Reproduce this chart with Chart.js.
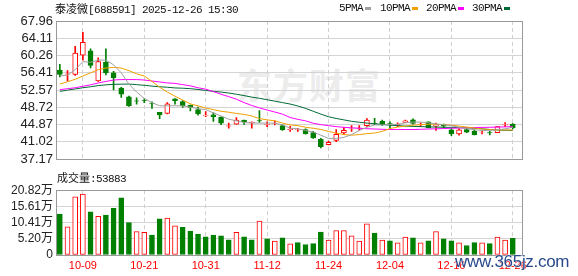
<!DOCTYPE html>
<html>
<head>
<meta charset="utf-8">
<script src="https://cdn.jsdelivr.net/npm/chart.js@4"></script>
<style>
  html, body { margin: 0; padding: 0; background: #fff; }
  #wrap { position: relative; width: 578px; height: 276px; overflow: hidden; }
  canvas { position: absolute; left: 0; z-index: 1; }
  .txt { position: absolute; white-space: nowrap; z-index: 2; color: #111; }
  .cjk { font-family: 'Noto Sans CJK SC'; font-size: 11px; }
  .mono { font-family: 'Liberation Mono'; font-size: 11px; letter-spacing: -0.6px; }
  .swatch { position: absolute; width: 6px; height: 3px; z-index: 2; }
  #logo { position: absolute; left: 237px; top: 64px; z-index: 0; font-family: 'Noto Sans CJK SC';
          font-weight: bold; font-size: 35px; line-height: 40px; color: #ececec; letter-spacing: 1px; }
  #site { position: absolute; left: 455px; top: 253px; z-index: 3; font-family: 'Liberation Sans';
          font-size: 17px; line-height: 17px; letter-spacing: -0.3px; color: #2a4a8c;
          text-shadow: 0 0 1px #fff, 0 0 1px #fff; }
</style>
</head>
<body>
<div id="wrap">
  <div id="logo">东方财富</div>
  <div class="txt" style="left:55px;top:0;line-height:16px;"><span class="cjk">泰凌微</span><span class="mono">[688591] 2025-12-26 15:30</span></div>
  <div id="legend"></div>
  <div class="txt" style="left:57px;top:169px;line-height:16px;"><span class="cjk">成交量</span><span class="mono">:53883</span></div>
  <canvas id="priceChart" width="578" height="170" style="top:0"></canvas>
  <canvas id="volChart" width="578" height="96" style="top:180px"></canvas>
  <div id="site">www.365jz.com</div>
</div>
<script>
// trading days shown
const dates = ['09-26','09-29','09-30','10-09','10-10','10-13','10-14','10-15','10-16','10-17',
  '10-20','10-21','10-22','10-23','10-24','10-27','10-28','10-29','10-30','10-31',
  '11-03','11-04','11-05','11-06','11-07','11-10','11-11','11-12','11-13','11-14',
  '11-17','11-18','11-19','11-20','11-21','11-24','11-25','11-26','11-27','11-28',
  '12-01','12-02','12-03','12-04','12-05','12-08','12-09','12-10','12-11','12-12',
  '12-15','12-16','12-17','12-18','12-19','12-22','12-23','12-24','12-25','12-26'];
const dateTicks = ['10-09','10-21','10-31','11-12','11-24','12-04','12-16','12-26'];

const open  = [57.00,56.10,56.05,60.32,61.33,54.63,58.76,56.41,53.00,51.06,
  50.20,50.25,49.68,47.64,47.36,50.63,50.00,49.20,48.20,46.90,
  47.06,46.57,44.52,45.00,45.86,45.30,45.76,44.82,45.18,44.65,
  43.75,43.70,43.79,43.08,41.59,40.43,41.37,43.00,43.90,44.03,
  44.65,45.10,45.60,45.12,44.70,45.35,45.93,44.84,45.50,44.55,
  44.90,43.73,42.80,43.79,43.40,43.17,43.10,43.08,44.82,45.00];
const high  = [58.33,56.90,62.33,65.46,61.76,59.77,61.76,56.77,53.20,51.21,
  50.85,50.63,49.93,47.64,49.78,50.70,50.21,49.20,48.77,47.80,
  47.49,46.63,45.22,46.42,45.90,45.50,48.00,45.50,45.72,44.80,
  44.50,44.07,43.94,43.36,41.80,41.23,43.79,44.29,44.65,44.65,
  46.21,46.29,45.90,45.50,45.30,45.86,46.14,45.29,45.50,45.20,
  45.00,44.00,43.94,43.98,43.70,43.50,43.40,44.50,45.35,45.10];
const low   = [55.49,54.60,55.83,59.25,57.48,54.48,55.92,52.63,50.91,48.92,
  49.42,49.78,48.50,46.20,47.28,49.42,48.71,47.92,47.00,46.63,
  45.57,44.86,44.07,44.93,44.93,44.07,45.35,44.43,44.80,43.58,
  43.36,43.36,42.72,41.80,39.66,40.37,41.07,42.66,43.36,43.65,
  44.50,44.86,44.70,44.10,44.40,45.29,45.00,44.43,44.15,43.58,
  44.20,42.44,42.50,43.10,42.60,42.80,42.60,43.08,44.43,43.90];
const close = [56.05,56.20,60.84,63.19,58.06,58.91,56.41,55.34,51.64,49.07,
  50.10,50.21,49.60,47.06,49.50,50.21,49.07,48.71,47.28,47.00,
  46.63,45.22,44.60,45.86,45.50,45.38,45.70,44.88,45.24,43.73,
  43.81,43.75,42.87,41.93,39.94,40.95,42.72,43.58,43.96,44.09,
  45.86,45.05,44.90,45.08,45.00,45.72,45.14,44.88,44.15,44.75,
  44.55,42.87,43.73,43.20,42.60,43.22,43.00,44.43,44.88,44.20];

const ma5  = [55.70,55.92,57.12,58.91,58.76,59.25,59.25,58.19,56.41,53.91,
  52.13,50.70,49.78,49.07,49.07,49.07,49.07,48.77,48.43,48.22,
  47.49,46.79,46.08,45.72,45.35,45.22,45.22,45.22,45.22,44.80,
  44.07,43.94,43.58,43.21,42.51,41.80,41.80,42.02,42.66,43.58,
  44.28,44.80,44.80,44.92,44.92,45.29,45.44,45.44,45.29,45.01,
  44.86,44.65,44.28,44.00,43.73,43.58,43.58,43.73,43.94,44.28];
const ma10 = [53.91,54.42,54.98,55.70,56.41,57.12,57.48,57.63,57.48,56.90,
  56.20,55.70,54.49,53.20,52.13,51.21,50.36,49.50,49.07,48.56,
  48.22,47.85,47.64,47.36,47.15,46.79,46.21,45.93,45.72,45.22,
  44.80,44.65,44.28,44.07,43.79,43.36,43.00,42.66,42.51,42.66,
  42.87,43.00,43.36,44.00,44.33,44.54,44.75,44.86,44.97,44.97,
  44.86,44.75,44.54,44.33,44.11,43.90,43.79,43.68,43.68,43.68];
const ma20 = [52.67,52.88,53.09,53.42,53.74,54.16,54.49,54.81,54.91,54.91,
  54.91,54.81,54.59,54.38,54.16,54.06,53.78,53.52,53.09,52.77,
  52.24,51.64,51.11,50.53,49.78,49.14,48.60,48.13,47.68,47.21,
  46.46,46.04,45.72,45.18,44.86,44.65,44.43,44.28,44.15,44.07,
  43.96,43.90,43.83,43.79,43.79,43.79,43.79,43.83,43.90,43.94,
  44.00,44.07,44.11,44.15,44.22,44.26,44.28,44.33,44.37,44.43];
const ma30 = [52.28,52.56,52.82,53.09,53.31,53.57,53.74,53.84,53.89,53.91,
  53.78,53.63,53.46,53.31,53.20,53.05,52.99,52.88,52.71,52.50,
  52.28,52.13,51.92,51.64,51.34,51.00,50.74,50.42,50.10,49.78,
  49.46,49.03,48.50,47.85,47.21,46.63,46.25,45.93,45.61,45.40,
  45.22,45.07,44.92,44.75,44.65,44.54,44.48,44.43,44.37,44.33,
  44.28,44.26,44.22,44.15,44.07,43.94,43.79,43.68,43.62,43.58];

// volume in 万 (10k lots); volUp: 1 = red, 0 = green
const volume = [13.17,9.09,18.68,19.60,13.88,12.45,12.86,15.00,18.37,10.41,
  7.55,7.25,6.43,11.64,11.84,9.39,8.88,7.66,6.74,5.82,
  6.43,6.12,4.90,7.25,5.82,4.90,10.92,5.20,4.50,5.51,
  3.58,3.98,3.37,3.67,7.35,4.80,7.86,7.86,6.12,4.49,
  10.00,7.04,4.80,4.59,3.88,5.72,5.51,3.88,4.59,7.55,
  5.20,4.59,3.88,3.06,3.98,3.88,3.67,5.72,4.80,5.39];
const volUp = [0,1,1,1,0,1,0,0,0,0, 1,1,0,0,1,1,0,0,0,0,
  0,0,0,1,0,0,1,0,1,0, 1,0,0,0,0,1,1,1,1,1,
  1,0,1,0,1,1,0,1,0,1, 0,0,1,0,0,1,0,1,1,0];

const priceTicks = [37.17,41.02,44.87,48.72,52.57,56.41,60.26,64.11,67.96];
const volTicks = [0,5.20,10.41,15.61,20.82];

const maNames = ['5PMA','10PMA','20PMA','30PMA'];
const maColors = ['#a0a0a0','#f0a000','#ff00ff','#006a35'];

const RED = '#ff0000', GREEN = '#008000';
const up = close.map((c, i) => c >= open[i]);

// legend (text then swatch)
const legendLeft = [339, 380, 426, 472];
const legend = document.getElementById('legend');
maNames.forEach((n, k) => {
  const t = document.createElement('div');
  t.className = 'txt mono';
  t.style.cssText = `left:${legendLeft[k]}px;top:0;line-height:16px;`;
  t.textContent = n;
  legend.appendChild(t);
  const s = document.createElement('div');
  s.className = 'swatch';
  s.style.cssText = `left:${legendLeft[k] + n.length * 6 + 2}px;top:7px;background:${maColors[k]};`;
  legend.appendChild(s);
});

const frame = {
  id: 'frame',
  afterDraw(c) {
    const a = c.chartArea, ctx = c.ctx;
    ctx.save();
    ctx.strokeStyle = '#999';
    ctx.lineWidth = 1;
    const l = Math.round(a.left), t = Math.round(a.top), r = Math.round(a.right), b = Math.round(a.bottom);
    ctx.strokeRect(l + 0.5, t + 0.5, r - l, b - t);
    ctx.restore();
  }
};

const xTickFix = s => { s.ticks = dateTicks.map(d => ({ value: dates.indexOf(d) })); };

function xScale(showLabels) {
  return {
    type: 'linear', min: -0.5, max: 60.2, offset: false,
    afterBuildTicks: xTickFix,
    afterFit: s => { s.height = showLabels ? 21 : 0; s.paddingLeft = 0; s.paddingRight = 0; },
    grid: { color: '#cfcfcf', drawTicks: false, offset: false },
    border: { display: false, dash: [4, 3] },
    ticks: {
      display: showLabels, autoSkip: false, maxRotation: 0, padding: 4,
      color: RED, font: { family: 'Liberation Sans', size: 11 },
      callback: v => dates[v]
    }
  };
}

function yScale(lo, hi, tickList, fontSize, fmt) {
  return {
    min: lo, max: hi,
    afterBuildTicks: s => { s.ticks = tickList.map(v => ({ value: v })); },
    afterFit: s => { s.width = 56; },
    grid: { color: '#d4d4d4', drawTicks: false },
    border: { display: false },
    ticks: { autoSkip: false, padding: 3, color: '#222',
             font: { family: "'Liberation Sans', 'Noto Sans CJK SC'", size: fontSize },
             callback: fmt }
  };
}

const idx = dates.map((d, i) => i);

new Chart(document.getElementById('priceChart'), {
  data: {
    datasets: [
      ...maNames.map((n, k) => ({
        type: 'line', label: n, order: 0,
        data: [ma5, ma10, ma20, ma30][k].map((v, i) => ({ x: i, y: v })),
        borderColor: maColors[k], borderWidth: 1, pointRadius: 0, tension: 0
      })),
      {
        type: 'bar', label: 'body', order: 1, grouped: false,
        data: idx.map(i => ({ x: i, y: [open[i], close[i]] })),
        backgroundColor: idx.map(i => up[i] ? '#ffffff' : GREEN),
        borderColor: idx.map(i => up[i] ? RED : GREEN),
        borderWidth: 1, borderSkipped: false, barThickness: 5
      },
      {
        type: 'bar', label: 'wick', order: 2, grouped: false,
        data: idx.map(i => ({ x: i, y: [low[i], high[i]] })),
        backgroundColor: idx.map(i => up[i] ? RED : GREEN),
        borderWidth: 0, barThickness: 1
      }
    ]
  },
  options: {
    responsive: false, animation: false,
    layout: { padding: { top: 21, right: 56, bottom: 5, left: 0 } },
    plugins: { legend: { display: false }, tooltip: { enabled: false } },
    scales: {
      x: xScale(false),
      y: yScale(37.17, 67.96, priceTicks, 13, v => v.toFixed(2))
    }
  },
  plugins: [frame]
});

new Chart(document.getElementById('volChart'), {
  type: 'bar',
  data: {
    datasets: [{
      label: 'volume', grouped: false,
      data: idx.map(i => ({ x: i, y: volume[i] })),
      backgroundColor: idx.map(i => volUp[i] ? '#ffffff' : GREEN),
      borderColor: idx.map(i => volUp[i] ? RED : GREEN),
      borderWidth: 1, borderSkipped: false, barThickness: 5
    }]
  },
  options: {
    responsive: false, animation: false,
    layout: { padding: { top: 7, right: 56, bottom: 0, left: 0 } },
    plugins: { legend: { display: false }, tooltip: { enabled: false } },
    scales: {
      x: xScale(true),
      y: yScale(0, 20.82, volTicks, 12, v => v === 0 ? '0' : v.toFixed(2) + '万')
    }
  },
  plugins: [frame]
});
</script>
</body>
</html>
